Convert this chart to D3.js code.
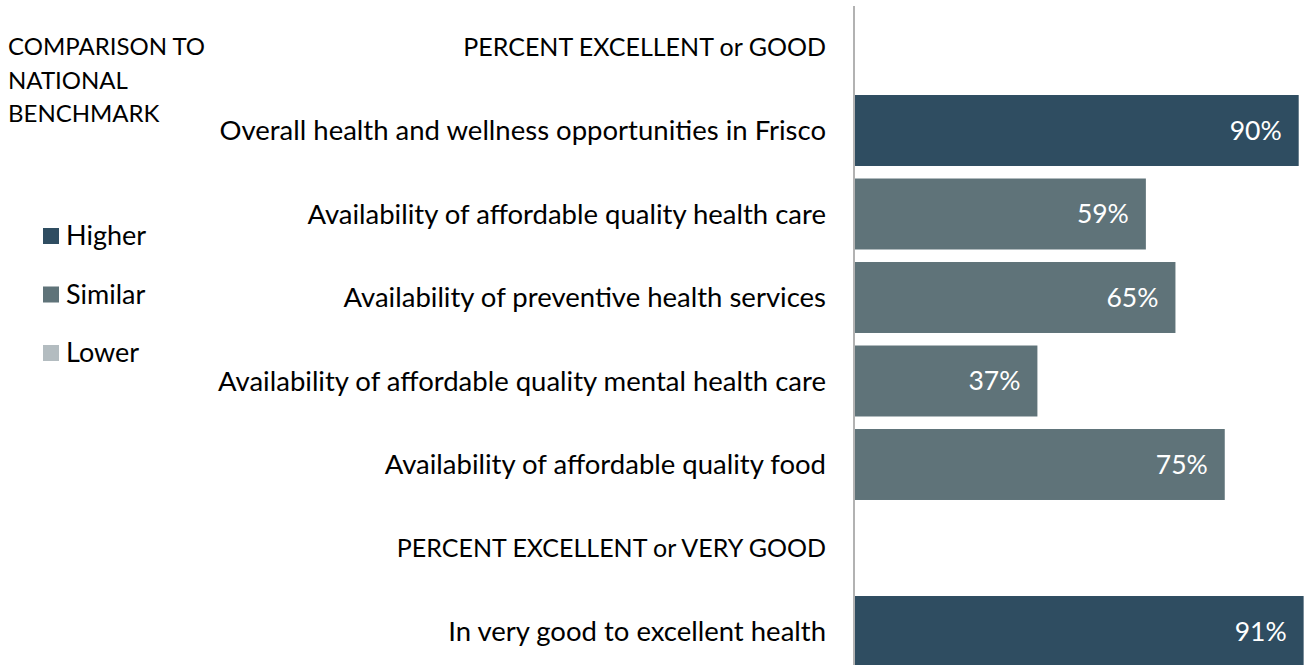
<!DOCTYPE html>
<html>
<head>
<meta charset="utf-8">
<script src="https://cdn.jsdelivr.net/npm/d3@7"></script>
<style>
  body { margin: 0; background: #fff; }
  svg { display: block; font-family: Lato, "Open Sans", sans-serif; }
</style>
</head>
<body>
<div id="chart"></div>
<script>
// rows, top to bottom (headers have no value)
const labels = [
  "PERCENT EXCELLENT or GOOD",
  "Overall health and wellness opportunities in Frisco",
  "Availability of affordable quality health care",
  "Availability of preventive health services",
  "Availability of affordable quality mental health care",
  "Availability of affordable quality food",
  "PERCENT EXCELLENT or VERY GOOD",
  "In very good to excellent health"
];
const values = [null, 90, 59, 65, 37, 75, null, 91];
const benchmark = [null, "Higher", "Similar", "Similar", "Similar", "Similar", null, "Higher"];

const legendItems = ["Higher", "Similar", "Lower"];
const legendColors = ["#2f4d61", "#5f7379", "#b3bcc0"];

const W = 1304, H = 665;
const AXIS_X = 854;

const svg = d3.select("#chart").append("svg")
  .attr("width", W)
  .attr("height", H);

const rows = labels.map((l, i) => ({ label: l, value: values[i], bench: benchmark[i], idx: i }));

const y = d3.scaleBand()
  .domain(rows.map(d => d.idx))
  .range([5.25, 673.25])
  .paddingInner(0.15)
  .paddingOuter(0.075);

const x = d3.scaleLinear()
  .domain([0, 100])
  .range([AXIS_X + 1, AXIS_X + 1 + 493]);

const color = d3.scaleOrdinal().domain(legendItems).range(legendColors);

// bars
const bars = rows.filter(d => d.value != null);
svg.selectAll(".bar")
  .data(bars)
  .enter()
  .append("rect")
  .attr("class", "bar")
  .attr("x", x(0))
  .attr("y", d => y(d.idx))
  .attr("width", d => x(d.value) - x(0))
  .attr("height", y.bandwidth())
  .attr("fill", d => color(d.bench));

svg.selectAll(".val")
  .data(bars)
  .enter()
  .append("text")
  .attr("class", "val")
  .attr("x", d => x(d.value) - 17)
  .attr("y", d => y(d.idx) + y.bandwidth() / 2)
  .attr("dy", "0.35em")
  .attr("text-anchor", "end")
  .attr("font-size", "26.5px")
  .attr("fill", "#fff")
  .text(d => d.value + "%");

// category labels (section headers are set a bit smaller)
svg.selectAll(".cat")
  .data(rows)
  .enter()
  .append("text")
  .attr("class", "cat")
  .attr("x", AXIS_X - 28)
  .attr("y", d => y(d.idx) + y.bandwidth() / 2)
  .attr("dy", "0.35em")
  .attr("text-anchor", "end")
  .attr("font-size", d => d.value == null ? "25px" : "27.5px")
  .attr("fill", "#000")
  .text(d => d.label);

// vertical axis line
svg.append("line")
  .attr("x1", AXIS_X).attr("x2", AXIS_X)
  .attr("y1", 6).attr("y2", H)
  .attr("stroke", "#999")
  .attr("stroke-width", 1.5);

// legend title
const title = svg.append("text")
  .attr("x", 8)
  .attr("y", 47)
  .attr("font-size", "24px")
  .attr("fill", "#000");
["COMPARISON TO", "NATIONAL", "BENCHMARK"].forEach((t, i) => {
  title.append("tspan")
    .attr("x", 8)
    .attr("dy", i === 0 ? "0.35em" : "33.5px")
    .text(t);
});

// legend
const legend = svg.append("g").attr("transform", "translate(43,236)");
const li = legend.selectAll("g")
  .data(legendItems)
  .enter()
  .append("g")
  .attr("transform", (d, i) => `translate(0,${i * 58.5})`);
li.append("rect")
  .attr("x", 0).attr("y", -8)
  .attr("width", 16).attr("height", 16)
  .attr("fill", d => color(d));
li.append("text")
  .attr("x", 23)
  .attr("dy", "0.35em")
  .attr("font-size", "27px")
  .attr("fill", "#000")
  .text(d => d);
</script>
</body>
</html>
